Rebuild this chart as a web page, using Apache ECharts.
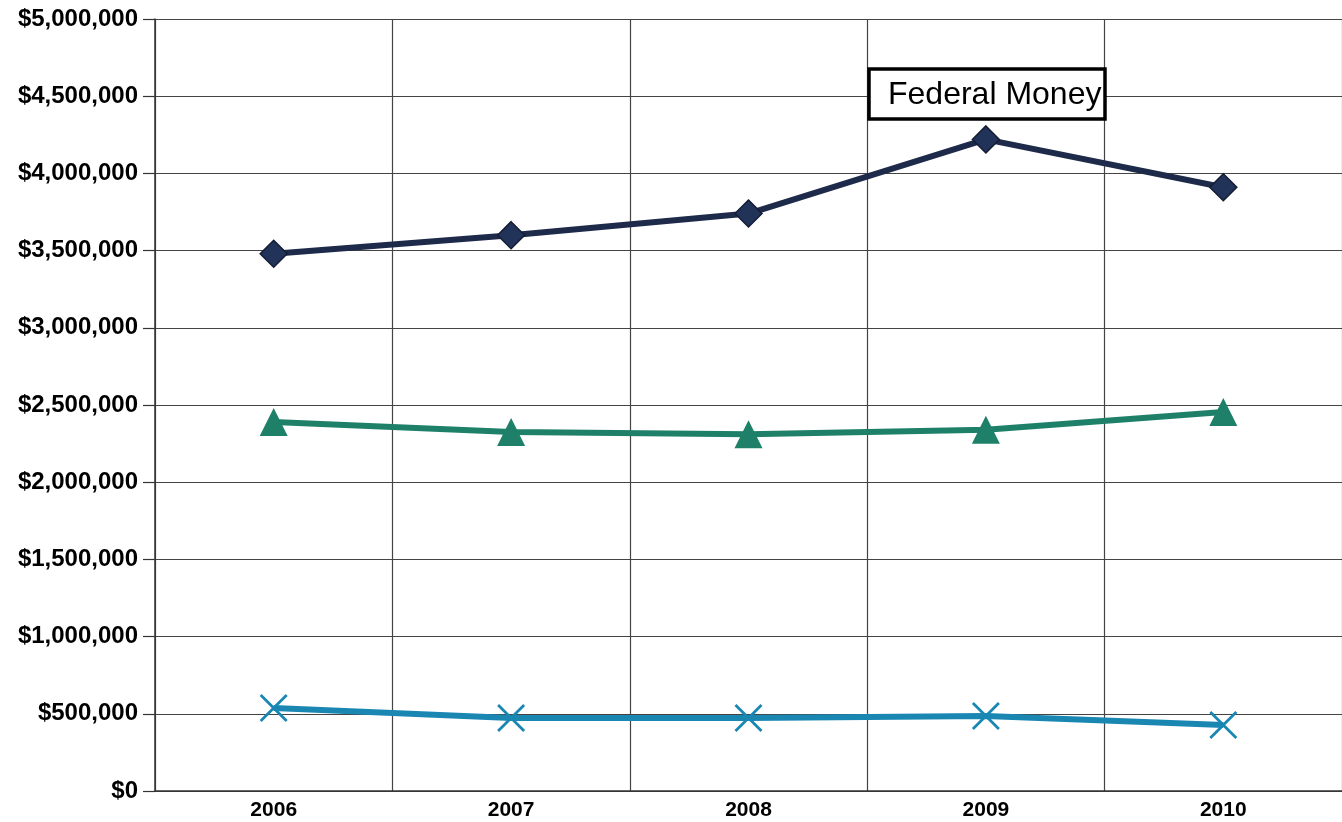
<!DOCTYPE html>
<html>
<head>
<meta charset="utf-8">
<script src="https://cdn.jsdelivr.net/npm/echarts@6/dist/echarts.min.js"></script>
<style>
html,body{margin:0;padding:0;background:#fff;}
#chart{width:1342px;height:822px;}
</style>
</head>
<body>
<div id="chart"></div>
<script>
const years = ['2006', '2007', '2008', '2009', '2010'];
const federalMoney = [3480000, 3600000, 3740000, 4220000, 3910000];
const greenSeries = [2390000, 2325000, 2310000, 2340000, 2455000];
const blueSeries = [538000, 473000, 473000, 486000, 427000];
const annotationText = 'Federal Money';

const xPath = 'path://M0,1.4 L1.4,0 L10,8.6 L18.6,0 L20,1.4 L11.4,10 L20,18.6 L18.6,20 L10,11.4 L1.4,20 L0,18.6 L8.6,10 Z';

const chart = echarts.init(document.getElementById('chart'));
chart.setOption({
  animation: false,
  backgroundColor: '#ffffff',
  grid: { left: 155, right: 0, top: 19, bottom: 31, containLabel: false },
  xAxis: {
    type: 'category',
    data: years,
    boundaryGap: true,
    axisLine: { show: true, lineStyle: { color: '#333', width: 1.5 } },
    axisTick: { show: false },
    splitLine: { show: true, lineStyle: { color: '#444', width: 1.2 } },
    axisLabel: { color: '#000', fontFamily: '"Liberation Sans", Arial, sans-serif', fontWeight: 'bold', fontSize: 21, margin: 9 }
  },
  yAxis: {
    type: 'value',
    min: 0, max: 5000000, interval: 500000,
    axisLine: { show: true, lineStyle: { color: '#333', width: 1.5 } },
    axisTick: { show: true, length: 12, lineStyle: { color: '#333', width: 1.2 } },
    splitLine: { show: true, lineStyle: { color: '#444', width: 1.2 } },
    axisLabel: {
      color: '#000', fontFamily: '"Liberation Sans", Arial, sans-serif', fontWeight: 'bold', fontSize: 24, margin: 17,
      formatter: v => '$' + v.toLocaleString('en-US')
    }
  },
  series: [
    {
      name: 'Federal Money', type: 'line', data: federalMoney,
      symbol: 'diamond', symbolSize: 27,
      lineStyle: { color: '#1e2a4a', width: 6 },
      itemStyle: { color: '#22335a', borderColor: '#141c33', borderWidth: 1.5 },
      z: 3
    },
    {
      name: 'Series 2', type: 'line', data: greenSeries,
      symbol: 'triangle', symbolSize: 28,
      lineStyle: { color: '#1e8068', width: 6 },
      itemStyle: { color: '#1e8068' },
      z: 3
    },
    {
      name: 'Series 3', type: 'line', data: blueSeries,
      symbol: xPath, symbolSize: 28,
      lineStyle: { color: '#1a87b3', width: 6 },
      itemStyle: { color: '#1a87b3' },
      z: 3
    }
  ],
  graphic: [
    {
      type: 'rect', z: 10,
      shape: { x: 869, y: 69, width: 236, height: 50 },
      style: { fill: '#ffffff', stroke: 'none' }
    },
    {
      type: 'text', z: 11,
      style: { x: 888, y: 95, text: annotationText, fill: '#000', font: '32px "Liberation Sans", Arial, sans-serif', verticalAlign: 'middle' }
    },
    {
      type: 'rect', z: 12,
      shape: { x: 869, y: 69, width: 236, height: 50 },
      style: { fill: 'none', stroke: '#000', lineWidth: 3.5 }
    }
  ]
});
</script>
</body>
</html>
